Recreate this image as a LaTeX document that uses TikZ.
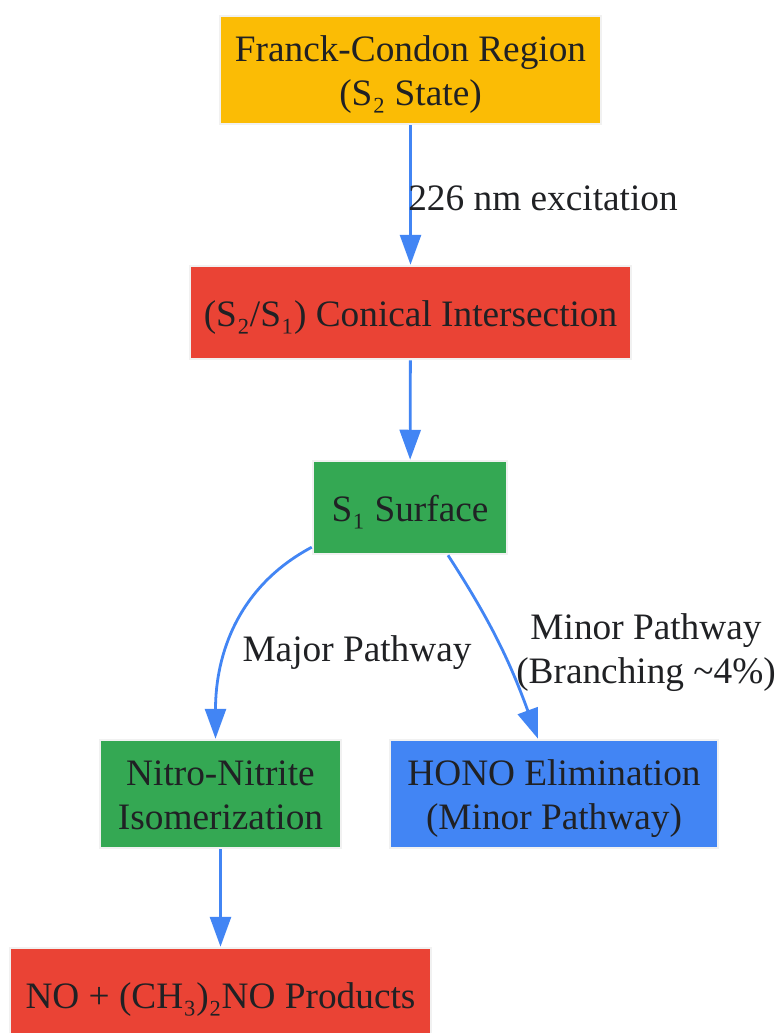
\documentclass[tikz,border=0pt]{standalone}
\usepackage{fontspec}
\setmainfont{Liberation Serif}
\usetikzlibrary{arrows.meta,calc}
\definecolor{gyellow}{HTML}{FBBC05}
\definecolor{gred}{HTML}{EA4335}
\definecolor{ggreen}{HTML}{34A853}
\definecolor{gblue}{HTML}{4285F4}
\definecolor{txt}{HTML}{202124}
\definecolor{edge}{HTML}{F1F1F1}
\begin{document}
\begin{tikzpicture}[x=1pt,y=1pt,
  box/.style={draw=edge, line width=2.5pt, inner sep=0pt},
  lbl/.style={text=txt, align=center, inner sep=0pt, font=\fontsize{37.3}{44}\selectfont},
  inbox/.style={lbl, yshift=-5pt},
  flow/.style={draw=gblue, line width=2.8pt, -{Triangle[length=30pt,width=21pt]}}]
\useasboundingbox[fill=white] (0,0) rectangle (779,-1033);
\node[box, fill=gyellow, minimum width=381pt, minimum height=108pt,
  label={[inbox]center:{Franck-Condon Region\\(S₂ State)}}] (fc) at (410.5,-70) {};
\node[box, fill=gred, minimum width=441pt, minimum height=93pt,
  label={[inbox]center:{(S₂/S₁) Conical Intersection}}] (ci) at (410.5,-312.5) {};
\node[box, fill=ggreen, minimum width=194pt, minimum height=93pt,
  label={[inbox]center:{S₁ Surface}}] (s1) at (410,-507.5) {};
\node[box, fill=ggreen, minimum width=241pt, minimum height=108pt,
  label={[inbox, yshift=4pt]center:{Nitro-Nitrite\\Isomerization}}] (nn) at (220.5,-794) {};
\node[box, fill=gblue, minimum width=328pt, minimum height=108pt,
  label={[inbox]center:{HONO Elimination\\(Minor Pathway)}}] (ho) at (554,-794) {};
\node[box, fill=gred, minimum width=421pt, minimum height=93pt,
  label={[inbox]center:{NO + (CH₃)₂NO Products}}] (pr) at (220.5,-994.5) {};
\draw[flow] (fc) -- (ci);
\draw[flow] (ci) -- (s1);
\draw[flow] (s1.202) to[out=208,in=90] ($(nn.north)+(-5,0)$);
\draw[flow] ($(s1.south)+(38,0)$) to[out=-57,in=110] ($(ho.north)+(-16,0)$);
\draw[flow] (nn) -- (pr);
\node[lbl] (l1) at (543,-198) {226 nm excitation};
\node[lbl] (l2) at (357,-653) {Major Pathway};
\node[lbl] (l3) at (646,-653) {Minor Pathway\\(Branching \textasciitilde4\%)};
\end{tikzpicture}
\end{document}
